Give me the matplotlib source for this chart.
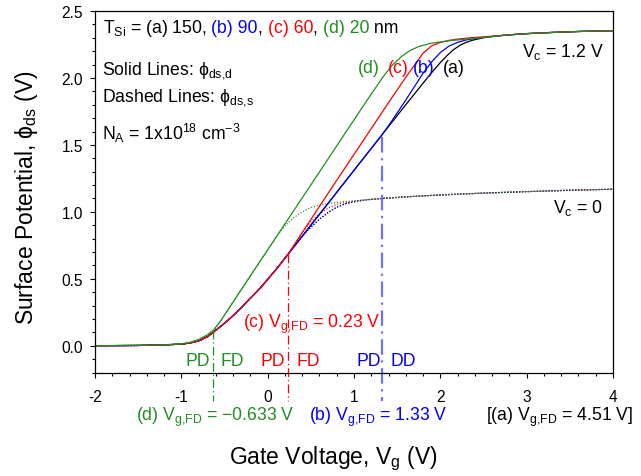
import matplotlib
matplotlib.use('Agg')
import matplotlib.pyplot as plt
import matplotlib.transforms as mtransforms
from matplotlib.ticker import MultipleLocator, FormatStrFormatter

plt.rcParams['font.family'] = ['Liberation Sans', 'DejaVu Sans']
plt.rcParams['mathtext.fontset'] = 'custom'
plt.rcParams['mathtext.rm'] = 'Liberation Sans'
plt.rcParams['mathtext.it'] = 'Liberation Sans:italic'
plt.rcParams['mathtext.default'] = 'regular'
plt.rcParams['axes.unicode_minus'] = False

GREEN = '#1f8f1f'
BLUE = '#0000ff'
RED = '#ff0000'
BLACK = '#000000'

# ---------------- data ----------------
# (a) T_Si = 150 nm, Vc = 1.2 V
vg_a = [-2.0, -1.5, -1.2, -1.0, -0.9, -0.8, -0.7, -0.63, -0.5, -0.4, -0.3, -0.2, -0.09, 0.0, 0.1, 0.24,
        0.5, 0.72, 1.0, 1.33, 1.6, 1.88, 2.0, 2.08, 2.15, 2.23, 2.3, 2.38, 2.5, 2.65, 2.8, 3.0, 3.3, 3.6, 4.0]
phi_a = [0.0, 0.002, 0.006, 0.012, 0.02, 0.036, 0.066, 0.10, 0.168, 0.225, 0.288, 0.355, 0.428, 0.496, 0.572, 0.687,
         0.90, 1.08, 1.31, 1.58, 1.80, 2.025, 2.115, 2.168, 2.21, 2.245, 2.266, 2.283, 2.300, 2.313, 2.322, 2.331, 2.340, 2.347, 2.353]
# (b) T_Si = 90 nm
vg_b = [-2.0, -1.5, -1.2, -1.0, -0.9, -0.8, -0.7, -0.63, -0.5, -0.4, -0.3, -0.2, -0.09, 0.0, 0.1, 0.24,
        0.5, 0.72, 1.0, 1.33, 1.45, 1.6, 1.7, 1.8, 1.9, 2.0, 2.1, 2.2, 2.3, 2.4, 2.5, 2.65, 2.8, 3.0, 3.3, 3.6, 4.0]
phi_b = [0.0, 0.002, 0.006, 0.012, 0.02, 0.036, 0.066, 0.10, 0.168, 0.225, 0.288, 0.355, 0.428, 0.496, 0.572, 0.687,
         0.90, 1.08, 1.31, 1.58, 1.69, 1.835, 1.935, 2.035, 2.12, 2.19, 2.238, 2.266, 2.284, 2.295, 2.303, 2.313, 2.322, 2.331, 2.340, 2.347, 2.353]
# (c) T_Si = 60 nm
vg_c = [-2.0, -1.5, -1.2, -1.0, -0.9, -0.8, -0.7, -0.63, -0.5, -0.4, -0.3, -0.2, -0.09, 0.0, 0.1, 0.24,
        0.4, 0.6, 0.72, 0.9, 1.2, 1.42, 1.6, 1.7, 1.8, 1.9, 2.0, 2.1, 2.2, 2.35, 2.5, 2.65, 2.8, 3.0, 3.3, 3.6, 4.0]
phi_c = [0.0, 0.002, 0.006, 0.012, 0.02, 0.036, 0.066, 0.10, 0.168, 0.225, 0.288, 0.355, 0.428, 0.496, 0.572, 0.687,
         0.845, 1.04, 1.158, 1.332, 1.622, 1.835, 2.005, 2.095, 2.185, 2.24, 2.265, 2.28, 2.29, 2.30, 2.307, 2.314, 2.322, 2.331, 2.340, 2.347, 2.353]
# (d) T_Si = 20 nm
vg_d = [-2.0, -1.5, -1.2, -1.0, -0.9, -0.8, -0.7, -0.63, -0.55, -0.45, -0.3, 0.0, 0.3, 0.6, 0.9, 1.2,
        1.35, 1.45, 1.55, 1.65, 1.75, 1.9, 2.1, 2.3, 2.5, 2.65, 2.8, 3.0, 3.3, 3.6, 4.0]
phi_d = [0.0, 0.002, 0.007, 0.014, 0.025, 0.046, 0.08, 0.115, 0.18, 0.278, 0.425, 0.716, 1.007, 1.298, 1.59, 1.88,
         2.02, 2.10, 2.16, 2.205, 2.235, 2.26, 2.278, 2.29, 2.302, 2.313, 2.322, 2.331, 2.340, 2.347, 2.353]

# Vc = 0 (dashed / dotted) curves
vg_a0 = [-2.0, -1.5, -1.2, -1.0, -0.9, -0.8, -0.7, -0.63, -0.5, -0.4, -0.3, -0.2, -0.09, 0.0, 0.1, 0.24,
         0.4, 0.5, 0.6, 0.7, 0.8, 0.9, 1.0, 1.15, 1.33, 1.6, 2.0, 2.5, 3.0, 3.5, 4.0]
phi_a0 = [0.0, 0.002, 0.006, 0.012, 0.02, 0.036, 0.066, 0.10, 0.168, 0.225, 0.288, 0.355, 0.428, 0.496, 0.572, 0.687,
          0.818, 0.885, 0.945, 0.995, 1.035, 1.06, 1.075, 1.09, 1.10, 1.112, 1.126, 1.14, 1.151, 1.161, 1.169]
vg_b0 = vg_a0
phi_b0 = phi_a0
vg_c0 = [-2.0, -1.5, -1.2, -1.0, -0.9, -0.8, -0.7, -0.63, -0.5, -0.4, -0.3, -0.2, -0.09, 0.0, 0.1, 0.24,
         0.4, 0.5, 0.6, 0.7, 0.8, 0.9, 1.0, 1.15, 1.33, 1.6, 2.0, 2.5, 3.0, 3.5, 4.0]
phi_c0 = [0.0, 0.002, 0.006, 0.012, 0.02, 0.036, 0.066, 0.10, 0.168, 0.225, 0.288, 0.355, 0.428, 0.496, 0.572, 0.687,
          0.845, 0.925, 0.985, 1.028, 1.055, 1.07, 1.08, 1.091, 1.10, 1.112, 1.126, 1.14, 1.151, 1.161, 1.169]
vg_d0 = [-2.0, -1.5, -1.2, -1.0, -0.9, -0.8, -0.7, -0.63, -0.55, -0.45, -0.3, 0.0, 0.1, 0.2, 0.3, 0.4,
         0.5, 0.65, 0.85, 1.1, 1.33, 1.6, 2.0, 2.5, 3.0, 3.5, 4.0]
phi_d0 = [0.0, 0.002, 0.007, 0.014, 0.025, 0.046, 0.08, 0.115, 0.18, 0.278, 0.425, 0.716, 0.81, 0.895, 0.955, 1.0,
          1.032, 1.058, 1.074, 1.088, 1.10, 1.112, 1.126, 1.14, 1.151, 1.161, 1.169]

# full-depletion onset voltages and the potential there
vg_fd = {'d': -0.633, 'c': 0.23, 'b': 1.33}
phi_fd = {'d': 0.115, 'c': 0.687, 'b': 1.56}

x_ticks = [-2, -1, 0, 1, 2, 3, 4]
y_ticks = [0.0, 0.5, 1.0, 1.5, 2.0, 2.5]

# ---------------- figure ----------------
W, H = 641, 477
fig = plt.figure(figsize=(W / 100, H / 100), dpi=100)
L, R, T, B = 95, 613, 12, 373.5
ax = fig.add_axes([L / W, 1 - B / H, (R - L) / W, (B - T) / H])

dot = (0, (1, 1.5))
for vg, ph, c in [(vg_a0, phi_a0, BLACK), (vg_b0, phi_b0, BLUE), (vg_c0, phi_c0, RED), (vg_d0, phi_d0, GREEN)]:
    ax.plot(vg, ph, linestyle=dot, color=c, lw=0.85)
for vg, ph, c in [(vg_a, phi_a, BLACK), (vg_b, phi_b, BLUE), (vg_c, phi_c, RED), (vg_d, phi_d, GREEN)]:
    ax.plot(vg, ph, '-', color=c, lw=0.9)

# vertical dash-dot markers
ybot = -0.41
dashdot = (0, (7, 2.5, 1, 2.5))
ax.plot([vg_fd['d']] * 2, [phi_fd['d'], ybot], color=GREEN, lw=0.9, ls=dashdot, clip_on=False)
ax.plot([vg_fd['c']] * 2, [phi_fd['c'], ybot], color=RED, lw=0.9, ls=dashdot, clip_on=False)
ax.plot([vg_fd['b']] * 2, [phi_fd['b'], ybot], color='#7070ff', lw=1.6, ls=dashdot, clip_on=False)

ax.set_xlim(-2, 4)
ax.set_ylim(-0.2, 2.5)
ax.set_xticks(x_ticks)
ax.set_yticks(y_ticks)
ax.xaxis.set_minor_locator(MultipleLocator(0.2))
ax.yaxis.set_minor_locator(MultipleLocator(0.1))
ax.yaxis.set_major_formatter(FormatStrFormatter('%.1f'))
ax.tick_params(which='major', direction='out', length=3.6, width=0.8, labelsize=11.2)
ax.tick_params(which='minor', direction='out', length=2.4, width=0.8)
ax.tick_params(axis='x', which='major', pad=8.5)
ax.tick_params(axis='y', which='major', pad=5)
ax.tick_params(top=False, right=False, which='both')
for s in ax.spines.values():
    s.set_linewidth(0.9)

# ---------------- text ----------------
FS = 12.7
fig.canvas.draw()
renderer = fig.canvas.get_renderer()


def text_width(s, fs):
    t1 = fig.text(0, 0, '|' + s + '|', fontsize=fs)
    t2 = fig.text(0, 0, '||', fontsize=fs)
    w = t1.get_window_extent(renderer).width - t2.get_window_extent(renderer).width
    t1.remove()
    t2.remove()
    return w


def colored_text(x, y, parts, fs=FS):
    off = 0.0
    for s, c in parts:
        tr = mtransforms.offset_copy(ax.transData, fig=fig, x=off, y=0, units='dots')
        ax.text(x, y, s, color=c, fontsize=fs, transform=tr, ha='left', va='baseline', clip_on=False)
        off += text_width(s, fs)


def xd(px):
    return -2 + (px - L) / ((R - L) / 6.0)


def yd(py):
    return -0.2 + (B - py) / ((B - T) / 2.7)


colored_text(xd(103), yd(33.3), [('$T_{Si}$ = (a) 150, ', BLACK), ('(b) 90', BLUE), (', ', BLACK),
                                  ('(c) 60', RED), (', ', BLACK), ('(d) 20', GREEN), (' nm', BLACK)])
ax.text(xd(102.3), yd(75), 'Solid Lines: \u03d5$_{ds{,}d}$', fontsize=FS, va='baseline')
ax.text(xd(102.3), yd(101), 'Dashed Lines: \u03d5$_{ds{,}s}$', fontsize=FS, va='baseline')
ax.text(xd(102.3), yd(140), '$N_A$ = 1x10$^{18}$ cm$^{-3}$', fontsize=FS, va='baseline')

ax.text(xd(357.5), yd(73), '(d)', color=GREEN, fontsize=FS, va='baseline')
ax.text(xd(388), yd(73), '(c)', color=RED, fontsize=FS, va='baseline')
ax.text(xd(413), yd(73), '(b)', color=BLUE, fontsize=FS, va='baseline')
ax.text(xd(443), yd(73), '(a)', color=BLACK, fontsize=FS, va='baseline')

ax.text(xd(603.3), yd(56.7), '$V_c$ = 1.2 V', fontsize=FS, va='baseline', ha='right')
ax.text(xd(603.3), yd(213.3), '$V_c$ = 0', fontsize=FS, va='baseline', ha='right')

ax.text(xd(243.3), yd(328.3), '(c) $V_{g{,}FD}$ = 0.23 V', color=RED, fontsize=FS, va='baseline')

ypd = yd(365.5)
ax.text(xd(210), ypd, 'PD', color=GREEN, fontsize=FS, va='baseline', ha='right')
ax.text(xd(220), ypd, 'FD', color=GREEN, fontsize=FS, va='baseline', ha='left')
ax.text(xd(285), ypd, 'PD', color=RED, fontsize=FS, va='baseline', ha='right')
ax.text(xd(296), ypd, 'FD', color=RED, fontsize=FS, va='baseline', ha='left')
ax.text(xd(380.5), ypd, 'PD', color=BLUE, fontsize=FS, va='baseline', ha='right')
ax.text(xd(390.7), ypd, 'DD', color=BLUE, fontsize=FS, va='baseline', ha='left')

ybt = yd(421)
ax.text(xd(136.3), ybt, '(d) $V_{g{,}FD}$ = \u22120.633 V', color=GREEN, fontsize=FS, va='baseline', clip_on=False)
ax.text(xd(309.3), ybt, '(b) $V_{g{,}FD}$ = 1.33 V', color=BLUE, fontsize=FS, va='baseline', clip_on=False)
ax.text(xd(485.8), ybt, '[(a) $V_{g{,}FD}$ = 4.51 V]', color=BLACK, fontsize=FS, va='baseline', clip_on=False)

fig.text(333 / W, 1 - 464 / H, 'Gate Voltage, $V_g$ (V)', fontsize=16.5, ha='center', va='baseline')
fig.text(27 / W, 1 - 197.5 / H, 'Surface Potential, \u03d5$_{ds}$ (V)', fontsize=16.5, ha='center', va='center',
         rotation=90)

fig.savefig('out.png', dpi=100)
